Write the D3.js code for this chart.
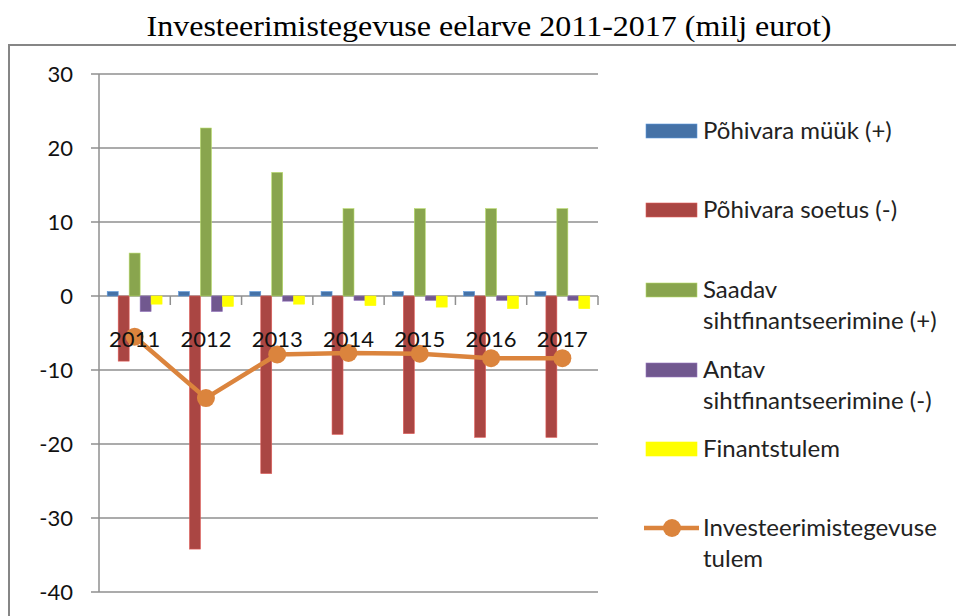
<!DOCTYPE html>
<html>
<head>
<meta charset="utf-8">
<script src="https://cdn.jsdelivr.net/npm/d3@7"></script>
<style>
  body { margin: 0; background: #fff; }
</style>
</head>
<body>
<div id="chart"></div>
<script>
const years = ['2011', '2012', '2013', '2014', '2015', '2016', '2017'];
const seriesNames = ['Põhivara müük (+)', 'Põhivara soetus (-)', 'Saadav sihtfinantseerimine (+)', 'Antav sihtfinantseerimine (-)', 'Finantstulem'];
const pohivaraMyyk = [0.6, 0.6, 0.6, 0.6, 0.6, 0.6, 0.6];
const pohivaraSoetus = [-8.8, -34.2, -24.0, -18.7, -18.6, -19.1, -19.1];
const saadavSiht = [5.8, 22.7, 16.7, 11.8, 11.8, 11.8, 11.8];
const antavSiht = [-2.1, -2.1, -0.7, -0.6, -0.6, -0.6, -0.6];
const finantstulem = [-1.1, -1.4, -1.1, -1.3, -1.5, -1.7, -1.7];
const lineName = 'Investeerimistegevuse tulem';
const tulem = [-5.5, -13.8, -7.9, -7.7, -7.8, -8.4, -8.4];
const yTicks = [-40, -30, -20, -10, 0, 10, 20, 30];

const colors = ['#4572A7', '#AA4643', '#89A54E', '#71588F', '#FFFF00'];
const lineColor = '#DB843D';
const barSeries = [pohivaraMyyk, pohivaraSoetus, saadavSiht, antavSiht, finantstulem];

const width = 956;
const height = 616;
const font = 'Lato, "Open Sans", sans-serif';

const svg = d3.select('#chart').append('svg')
  .attr('width', width)
  .attr('height', height);

// outer frame
svg.append('rect')
  .attr('x', 9).attr('y', 45)
  .attr('width', 960).attr('height', 600)
  .attr('fill', 'none')
  .attr('stroke', '#868686')
  .attr('stroke-width', 2);

svg.append('text')
  .attr('x', 489).attr('y', 36)
  .attr('text-anchor', 'middle')
  .attr('font-family', '"Liberation Serif", "Times New Roman", serif')
  .attr('font-size', 30)
  .attr('textLength', 685)
  .attr('lengthAdjust', 'spacingAndGlyphs')
  .attr('fill', '#000')
  .text('Investeerimistegevuse eelarve 2011-2017 (milj eurot)');

const plotLeft = 99, plotRight = 598, plotTop = 74, plotBottom = 592;

const y = d3.scaleLinear().domain([-40, 30]).range([plotBottom, plotTop]);
const x0 = d3.scaleBand().domain(years).range([plotLeft, plotRight]).paddingInner(0).paddingOuter(0);
const x1 = d3.scaleBand().domain(d3.range(barSeries.length)).range([0, x0.bandwidth()]).paddingOuter(0.75);

// gridlines
svg.append('g').selectAll('line')
  .data(yTicks)
  .enter().append('line')
  .attr('x1', plotLeft - 8).attr('x2', plotRight)
  .attr('y1', (d) => y(d)).attr('y2', (d) => y(d))
  .attr('stroke', '#8f8f8f')
  .attr('stroke-width', 1.5);

// y axis line
svg.append('line')
  .attr('x1', plotLeft).attr('x2', plotLeft)
  .attr('y1', plotTop).attr('y2', plotBottom)
  .attr('stroke', '#8f8f8f').attr('stroke-width', 1.5);

svg.append('g').selectAll('text')
  .data(yTicks)
  .enter().append('text')
  .attr('x', 73)
  .attr('y', (d) => y(d))
  .attr('dy', '0.35em')
  .attr('text-anchor', 'end')
  .attr('font-family', font)
  .attr('font-size', 22)
  .attr('fill', '#111')
  .text((d) => d);

// bars
const groups = svg.append('g').selectAll('g')
  .data(years)
  .enter().append('g')
  .attr('transform', (d) => `translate(${x0(d)},0)`);

groups.selectAll('rect')
  .data((d, i) => barSeries.map((s, k) => ({ k: k, v: s[i] })))
  .enter().append('rect')
  .attr('x', (d) => x1(d.k))
  .attr('width', x1.bandwidth())
  .attr('y', (d) => y(Math.max(0, d.v)))
  .attr('height', (d) => Math.abs(y(d.v) - y(0)))
  .attr('fill', (d) => colors[d.k])
  .attr('stroke', (d) => d3.color(colors[d.k]).brighter(0.8))
  .attr('stroke-width', 0.6);

// category tick marks on the zero line
svg.append('g').selectAll('line')
  .data(years.slice(1).concat(['end']))
  .enter().append('line')
  .attr('x1', (d) => d === 'end' ? plotRight : x0(d))
  .attr('x2', (d) => d === 'end' ? plotRight : x0(d))
  .attr('y1', y(0)).attr('y2', y(0) + 9)
  .attr('stroke', '#8f8f8f').attr('stroke-width', 1.5);

// line series
const lineGen = d3.line()
  .x((d, i) => x0(years[i]) + x0.bandwidth() / 2)
  .y((d) => y(d));

svg.append('path')
  .datum(tulem)
  .attr('d', lineGen)
  .attr('fill', 'none')
  .attr('stroke', lineColor)
  .attr('stroke-width', 4.5)
  .attr('stroke-linejoin', 'round');

svg.append('g').selectAll('circle')
  .data(tulem)
  .enter().append('circle')
  .attr('cx', (d, i) => x0(years[i]) + x0.bandwidth() / 2)
  .attr('cy', (d) => y(d))
  .attr('r', 9)
  .attr('fill', lineColor);

// category labels
svg.append('g').selectAll('text')
  .data(years)
  .enter().append('text')
  .attr('x', (d) => x0(d) + x0.bandwidth() / 2)
  .attr('y', 347)
  .attr('text-anchor', 'middle')
  .attr('font-family', font)
  .attr('font-size', 22)
  .attr('fill', '#111')
  .text((d) => d);

// legend
const legendRows = [
  { type: 'bar', k: 0, y: 131, lines: ['Põhivara müük (+)'] },
  { type: 'bar', k: 1, y: 210, lines: ['Põhivara soetus (-)'] },
  { type: 'bar', k: 2, y: 290, lines: ['Saadav', 'sihtfinantseerimine (+)'] },
  { type: 'bar', k: 3, y: 370, lines: ['Antav', 'sihtfinantseerimine (-)'] },
  { type: 'bar', k: 4, y: 449, lines: ['Finantstulem'] },
  { type: 'line', y: 528, lines: ['Investeerimistegevuse', 'tulem'] }
];

const legend = svg.append('g').attr('class', 'legend');
legendRows.forEach((row) => {
  const g = legend.append('g').attr('transform', `translate(0, ${row.y})`);
  if (row.type === 'bar') {
    g.append('rect')
      .attr('x', 646).attr('y', -7)
      .attr('width', 51).attr('height', 14)
      .attr('fill', colors[row.k])
      .attr('stroke', d3.color(colors[row.k]).brighter(0.8))
      .attr('stroke-width', 0.6);
  } else {
    g.append('line')
      .attr('x1', 644).attr('x2', 699)
      .attr('y1', 0).attr('y2', 0)
      .attr('stroke', lineColor).attr('stroke-width', 4.5);
    g.append('circle')
      .attr('cx', 672).attr('cy', 0).attr('r', 9)
      .attr('fill', lineColor);
  }
  row.lines.forEach((t, j) => {
    g.append('text')
      .attr('x', 703)
      .attr('y', j * 31)
      .attr('dy', '0.35em')
      .attr('font-family', font)
      .attr('font-size', 24)
      .attr('fill', '#222')
      .text(t);
  });
});
</script>
</body>
</html>
